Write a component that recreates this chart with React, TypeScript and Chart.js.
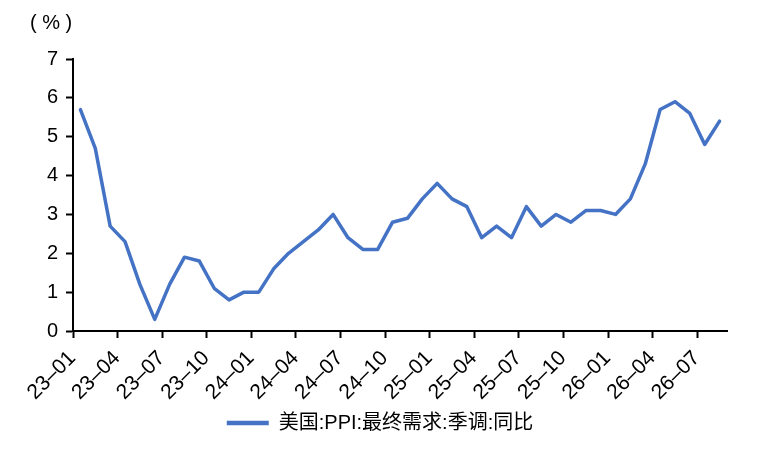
import { useEffect, useRef } from "react";
import { Chart, registerables } from "chart.js";

Chart.register(...registerables);

const months = [
  "23-01", "23-02", "23-03", "23-04", "23-05", "23-06", "23-07", "23-08", "23-09", "23-10", "23-11", "23-12",
  "24-01", "24-02", "24-03", "24-04", "24-05", "24-06", "24-07", "24-08", "24-09", "24-10", "24-11", "24-12",
  "25-01", "25-02", "25-03", "25-04", "25-05", "25-06", "25-07", "25-08", "25-09", "25-10", "25-11", "25-12",
  "26-01", "26-02", "26-03", "26-04", "26-05", "26-06", "26-07", "26-08",
];

const ppiFinalDemandYoY = [
  5.7, 4.7, 2.7, 2.3, 1.2, 0.3, 1.2, 1.9, 1.8, 1.1, 0.8, 1.0,
  1.0, 1.6, 2.0, 2.3, 2.6, 3.0, 2.4, 2.1, 2.1, 2.8, 2.9, 3.4,
  3.8, 3.4, 3.2, 2.4, 2.7, 2.4, 3.2, 2.7, 3.0, 2.8, 3.1, 3.1,
  3.0, 3.4, 4.3, 5.7, 5.9, 5.6, 4.8, 5.4,
];

const seriesName = "美国:PPI:最终需求:季调:同比";
const unitLabel = "( % )";
const yTicks = [0, 1, 2, 3, 4, 5, 6, 7];
const labelEvery = 3;

const LATIN = "'Liberation Sans', Arial, 'Noto Sans CJK SC', sans-serif";
const BLUE = "#4472C4";

const unitPlugin = {
  id: "unitLabel",
  afterDraw(chart: any) {
    const { ctx, chartArea } = chart;
    ctx.save();
    ctx.font = `20px ${LATIN}`;
    ctx.fillStyle = "#000";
    ctx.textAlign = "left";
    ctx.textBaseline = "middle";
    ctx.fillText(unitLabel, chartArea.left - 43, chartArea.top - 36);
    ctx.restore();
  },
};

export default function App() {
  const ref = useRef<HTMLCanvasElement | null>(null);

  useEffect(() => {
    if (!ref.current) return;
    const chart = new Chart(ref.current, {
      type: "line",
      data: {
        labels: months,
        datasets: [
          {
            label: seriesName,
            data: ppiFinalDemandYoY,
            borderColor: BLUE,
            backgroundColor: BLUE,
            borderWidth: 3.5,
            pointRadius: 0,
            pointHoverRadius: 0,
            tension: 0,
            fill: false,
            borderJoinStyle: "round",
            borderCapStyle: "round",
          },
        ],
      },
      options: {
        responsive: false,
        animation: false,
        devicePixelRatio: 1,
        layout: { padding: { left: 0, right: 0, top: 59, bottom: 13 } },
        plugins: {
          tooltip: { enabled: false },
          legend: {
            position: "bottom",
            labels: {
              boxWidth: 42,
              boxHeight: 4.5,
              padding: 10,
              color: "#000",
              font: { family: LATIN, size: 20 },
              generateLabels(chart: any) {
                return chart.data.datasets.map((ds: any, i: number) => ({
                  text: ds.label,
                  fillStyle: BLUE,
                  strokeStyle: BLUE,
                  lineWidth: 0,
                  hidden: false,
                  datasetIndex: i,
                  fontColor: "#000",
                }));
              },
            },
          },
        },
        scales: {
          x: {
            type: "category",
            offset: true,
            grid: {
              offset: true,
              drawOnChartArea: false,
              drawTicks: true,
              tickLength: 7,
              tickColor: (c: any) =>
                c.type === "tick" && c.index % labelEvery === 0 ? "#000" : "rgba(0,0,0,0)",
              tickWidth: 2,
            },
            border: { display: true, color: "#000", width: 2 },
            ticks: {
              autoSkip: false,
              minRotation: 45,
              maxRotation: 45,
              labelOffset: -8,
              padding: 8,
              color: "#000",
              font: { family: LATIN, size: 21 },
              callback: (_v: any, i: number) =>
                i % labelEvery === 0 ? months[i].replace("-", "–") : "",
            },
            afterFit(scale: any) {
              scale.height = 72;
            },
          },
          y: {
            min: yTicks[0],
            max: yTicks[yTicks.length - 1],
            grid: {
              drawOnChartArea: false,
              drawTicks: true,
              tickLength: 7,
              tickColor: "#000",
              tickWidth: 2,
            },
            border: { display: true, color: "#000", width: 2 },
            ticks: {
              stepSize: 1,
              padding: 8,
              color: "#000",
              font: { family: LATIN, size: 20 },
            },
            afterFit(scale: any) {
              scale.width = 73;
            },
          },
          yRightSpace: {
            position: "right",
            display: true,
            grid: { display: false, drawTicks: false },
            border: { display: false },
            ticks: { display: false },
            afterFit(scale: any) {
              scale.width = 33;
            },
          },
        },
      },
      plugins: [unitPlugin],
    } as any);
    return () => chart.destroy();
  }, []);

  return (
    <div style={{ position: "absolute", left: 0, top: 0, width: 760, height: 456, background: "#fff" }}>
      <canvas ref={ref} style={{ width: 760, height: 456 }} />
    </div>
  );
}
